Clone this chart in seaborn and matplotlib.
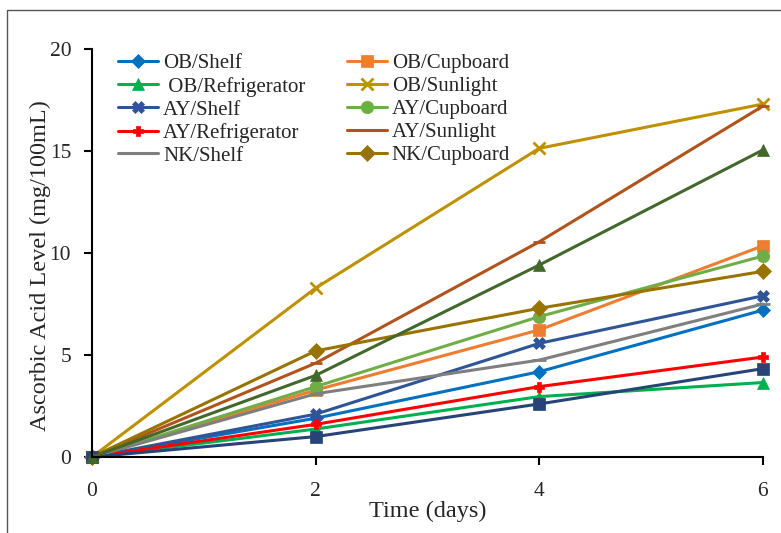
import matplotlib
matplotlib.use("Agg")
import matplotlib.pyplot as plt
import seaborn as sns
import pandas as pd
from matplotlib.patches import Rectangle

days = [0, 2, 4, 6]

ob_shelf = [0, 1.9, 4.18, 7.2]
ob_cupboard = [0, 3.28, 6.23, 10.35]
ob_refrigerator = [0, 1.37, 2.96, 3.65]
ob_sunlight = [0, 8.28, 15.13, 17.3]
ay_shelf = [0, 2.1, 5.57, 7.9]
ay_cupboard = [0, 3.45, 6.88, 9.85]
ay_refrigerator = [0, 1.6, 3.45, 4.9]
ay_sunlight = [0, 4.6, 10.55, 17.2]
nk_shelf = [0, 3.1, 4.75, 7.5]
nk_cupboard = [0, 5.2, 7.29, 9.1]
nk_refrigerator = [0, 1.0, 2.6, 4.33]
nk_sunlight = [0, 4.0, 9.41, 15.05]

labels = ["OB/Shelf", "OB/Cupboard", " OB/Refrigerator", "OB/Sunlight",
          "AY/Shelf", "AY/Cupboard", "AY/Refrigerator", "AY/Sunlight",
          "NK/Shelf", "NK/Cupboard", "NK/Refrigerator", "NK/Sunlight"]
series = [ob_shelf, ob_cupboard, ob_refrigerator, ob_sunlight,
          ay_shelf, ay_cupboard, ay_refrigerator, ay_sunlight,
          nk_shelf, nk_cupboard, nk_refrigerator, nk_sunlight]
colors = ["#0070C0", "#ED7D31", "#00B050", "#BF9000",
          "#2F5597", "#70AD47", "#FF0000", "#B0541C",
          "#7F7F7F", "#997300", "#264478", "#43682B"]
markers = ["D", "s", "^", "x", "X", "o", "P", "_", "_", "D", "s", "^"]
msizes = [7, 9, 8, 8, 8, 9, 7, 8, 10, 8, 9, 8]

rows = []
for lab, vals in zip(labels, series):
    for d, v in zip(days, vals):
        rows.append({"day": d, "value": v, "series": lab})
df = pd.DataFrame(rows)

sns.set_style("white")
plt.rcParams["font.family"] = ["Liberation Serif", "DejaVu Serif"]

fig = plt.figure(figsize=(7.81, 5.33), dpi=100)
ax = fig.add_axes([0.1178, 0.1426, 0.859, 0.7655])

for lab, col, mk, ms in zip(labels, colors, markers, msizes):
    sub = df[df["series"] == lab]
    sns.lineplot(data=sub, x="day", y="value", ax=ax, color=col, marker=mk,
                 markersize=ms, linewidth=2.2, label=lab, clip_on=False,
                 markeredgecolor=col, markeredgewidth=2 if mk in ("x", "_") else 0.5)

ax.set_xlim(0, 6)
ax.set_ylim(0, 20)
ax.set_xticks([0, 2, 4, 6])
ax.set_yticks([0, 5, 10, 15, 20])
for s in ["top", "right"]:
    ax.spines[s].set_visible(False)
for s in ["left", "bottom"]:
    ax.spines[s].set_color("black")
    ax.spines[s].set_linewidth(1.5)
ax.tick_params(axis="both", direction="out", length=6, width=1.5, color="black",
               labelsize=15.5, left=True, bottom=True)
ax.tick_params(axis="x", pad=12)
ax.tick_params(axis="y", pad=9)
ax.set_xlabel("Time (days)", fontsize=17.5, labelpad=0)
ax.set_ylabel("Ascorbic Acid Level (mg/100mL)", fontsize=17.5)
ax.yaxis.set_label_coords(-0.061, 0.468)

handles, labs = ax.get_legend_handles_labels()
order_names = ["OB/Shelf", " OB/Refrigerator", "AY/Shelf", "AY/Refrigerator", "NK/Shelf",
               "OB/Cupboard", "OB/Sunlight", "AY/Cupboard", "AY/Sunlight", "NK/Cupboard"]
hmap = dict(zip(labs, handles))
ax.legend([hmap[n] for n in order_names], order_names, ncol=2, frameon=False,
          loc="upper left", bbox_to_anchor=(0.039, 0.988), fontsize=15,
          handlelength=1.9, handletextpad=0.25, labelspacing=0.16,
          columnspacing=2.0, borderpad=0, borderaxespad=0)

fig.patches.append(Rectangle((7 / 781, -0.1), 1.2, 1 - 10 / 533 + 0.1,
                             transform=fig.transFigure, fill=False,
                             edgecolor="#555555", linewidth=1.0))

fig.savefig("out.png", dpi=100)
